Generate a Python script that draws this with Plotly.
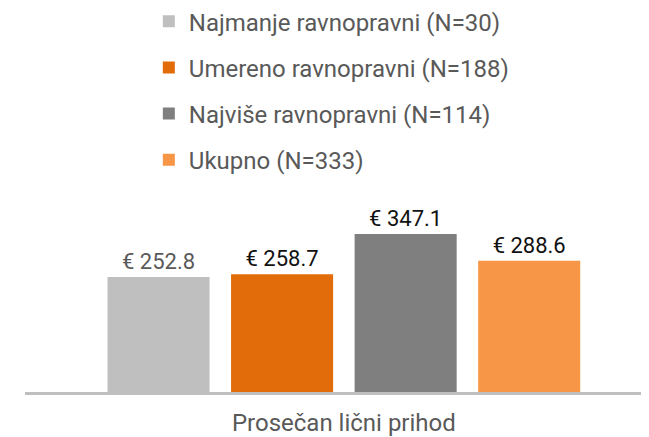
import plotly.graph_objects as go

category = ["Prosečan lični prihod"]
series_names = ["Najmanje ravnopravni (N=30)", "Umereno ravnopravni (N=188)",
                "Najviše ravnopravni (N=114)", "Ukupno (N=333)"]
series_values = [252.8, 258.7, 347.1, 288.6]
colors = ["#BFBFBF", "#E36C0A", "#7F7F7F", "#F79646"]
label_colors = ["#595959", "#111111", "#111111", "#111111"]

cat_pos = list(range(len(category)))

fig = go.Figure()
for i, (name, val) in enumerate(zip(series_names, series_values)):
    fig.add_trace(go.Bar(
        x=cat_pos, y=[val], name=name,
        marker=dict(color=colors[i], line=dict(width=0)),
        text=[f"€ {val:.1f}"], textposition="outside", constraintext="none",
        textfont=dict(family="Roboto", size=22, color=label_colors[i]),
        cliponaxis=False, legendgroup=f"g{i}",
    ))

fig.update_layout(
    width=649, height=437,
    margin=dict(l=17, r=8, t=182, b=53, autoexpand=False),
    paper_bgcolor="white", plot_bgcolor="white",
    barmode="group", bargap=0.208, bargroupgap=0.174,
    font=dict(family="Roboto", color="#595959"),
    legend=dict(
        xref="container", yref="paper", x=0.217, y=1.945,
        xanchor="left", yanchor="top",
        font=dict(family="Roboto", size=24, color="#595959"),
        tracegroupgap=12, itemwidth=30,
    ),
    xaxis=dict(
        type="linear", range=[-0.511, 0.489], showgrid=False, showline=True,
        linecolor="#BFBFBF", linewidth=3, ticks="", zeroline=False,
        tickmode="array", tickvals=cat_pos, ticktext=category,
        tickfont=dict(family="Roboto", size=24, color="#595959"),
        ticklabelstandoff=7,
        fixedrange=True,
    ),
    yaxis=dict(range=[0, 444], visible=False, showgrid=False, zeroline=False),
    showlegend=True,
)

fig.write_html("out.html")
